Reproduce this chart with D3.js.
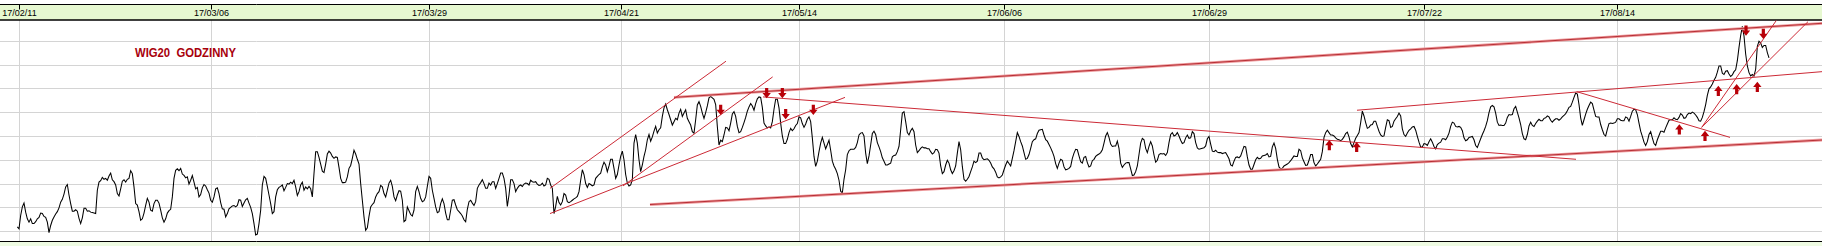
<!DOCTYPE html>
<html><head><meta charset="utf-8">
<script src="https://cdn.jsdelivr.net/npm/d3@7"></script>
<style>html,body{margin:0;padding:0;background:#fff;overflow:hidden}</style>
</head><body><svg id="c" width="1822" height="246"></svg>
<script>
const title = "WIG20  GODZINNY";
const tickIndex = [1, 116, 247, 362, 469, 592, 715, 844, 960];
const tickLabels = ["17/02/11", "17/03/06", "17/03/29", "17/04/21", "17/05/14", "17/06/06", "17/06/29", "17/07/22", "17/08/14"];
const gridValues = [2150, 2200, 2250, 2300, 2350, 2400, 2450, 2500, 2550];
const valueDomain = [2130.4, 2594.5];

// hourly closes
const closes = [
2160,2156,2184,2202,2210,2191,2177,2170,2177,2167,
2167,2171,2177,2180,2189,2188,2182,2180,2170,2148,
2163,2174,2181,2187,2192,2200,2212,2218,2229,2244,
2249,2227,2209,2193,2193,2196,2193,2178,2167,2179,
2199,2199,2193,2194,2191,2190,2189,2188,2237,2254,
2257,2264,2260,2262,2258,2267,2273,2259,2255,2248,
2230,2225,2240,2256,2259,2254,2260,2262,2278,2272,
2244,2209,2206,2192,2174,2177,2189,2205,2220,2212,
2195,2193,2209,2216,2216,2210,2195,2179,2170,2177,
2189,2194,2197,2223,2262,2279,2282,2278,2283,2271,
2268,2263,2265,2250,2258,2268,2254,2240,2243,2223,
2228,2242,2249,2246,2238,2231,2216,2212,2223,2240,
2242,2230,2211,2198,2197,2181,2188,2198,2201,2204,
2205,2202,2205,2217,2216,2203,2210,2217,2220,2210,
2201,2188,2167,2143,2145,2167,2195,2248,2266,2262,
2245,2227,2209,2188,2192,2223,2238,2243,2245,2248,
2236,2243,2251,2250,2254,2251,2258,2244,2226,2234,
2248,2254,2237,2244,2240,2245,2240,2223,2272,2318,
2318,2306,2292,2277,2274,2292,2313,2319,2315,2308,
2304,2307,2306,2285,2262,2253,2253,2254,2265,2283,
2289,2304,2321,2313,2302,2292,2251,2216,2181,2153,
2158,2182,2202,2207,2211,2223,2230,2234,2247,2244,
2230,2223,2237,2252,2258,2245,2223,2215,2227,2236,
2235,2216,2171,2174,2202,2194,2186,2183,2195,2234,
2245,2234,2220,2213,2215,2223,2245,2266,2262,2237,
2220,2202,2190,2192,2209,2219,2209,2189,2175,2175,
2195,2216,
2217,2206,2196,2192,2188,2183,2175,2171,2197,2213,
2216,2210,2205,2213,2241,2248,2253,2259,2251,2241,
2241,2252,2248,2255,2255,2241,2251,2262,2273,2273,
2262,2241,2203,2227,2259,2259,2251,2234,2241,2246,
2248,2245,2250,2252,2251,2248,2258,2255,2254,2255,
2250,2247,2248,2252,2246,2248,2262,2260,2248,2241,
2188,2203,2224,2211,2206,2213,2230,2227,2213,2211,
2213,2216,2219,2221,2224,2234,2258,2280,2270,2251,
2243,2251,2249,2246,2248,2262,2266,2270,2273,2286,
2296,2290,2276,2288,2302,2302,2283,2262,2270,2290,
2308,2319,2301,2270,2252,2246,2248,2259,2336,2354,
2336,2301,2276,2290,2308,2322,2343,2354,2340,2349,
2361,2371,2357,2364,2368,2392,2410,2418,2406,2396,
2385,2374,2381,2388,2385,2399,2407,2392,2399,2406,
2388,2381,2374,2360,2357,2385,2416,2423,2413,2399,
2388,2400,2414,2431,2434,2431,2428,2417,2371,2332,
2342,2339,2353,2369,2368,2362,2378,2397,2402,2392,
2371,2358,2360,2369,2379,2390,2403,2412,2419,2414,
2405,2419,2429,2433,2432,2411,2378,2372,2368,2370,
2368,2381,2407,2428,2428,2410,2378,2351,2335,2335,
2344,2358,2367,2362,2366,2373,2377,2391,2389,2377,
2369,2376,2386,2391,2381,2347,2308,2287,2298,2318,
2336,2348,2336,2324,2333,2342,2321,2298,2288,2281,
2272,2258,2235,2231,2260,2280,2312,2320,2323,2323,
2323,2327,2337,2353,2357,2358,2351,2315,2293,2309,
2332,2356,2361,2354,2337,2328,2318,2305,2298,2290,
2290,2292,2294,2307,2310,2311,2318,2329,
2364,2399,2402,2381,2358,2353,2362,2367,2360,2332,
2316,2320,2325,2328,2326,2326,2324,2324,2318,2313,
2316,2323,2322,2315,2288,2272,2276,2290,2300,2294,
2280,2272,2278,2288,2315,2339,2322,2287,2260,2256,
2260,2266,2276,2286,2298,2295,2298,2315,2315,2305,
2301,2302,2303,2300,2294,2286,2282,2275,2265,2263,
2265,2269,2280,2290,2298,2293,2288,2304,2320,2339,
2358,2350,2339,2330,2316,2302,2304,2312,2325,2339,
2343,2345,2356,2363,2364,2365,2353,2343,2340,2333,
2326,2318,2308,2293,2283,2294,2302,2300,2286,2280,
2281,2283,2287,2304,2315,2323,2322,2309,2297,2294,
2306,2308,2295,2286,2288,2299,2302,2308,2311,2313,
2316,2322,2336,2351,2358,2348,2334,2329,2330,2330,
2340,2325,2294,2285,2290,2294,2295,2295,2282,2268,
2269,2276,2288,2312,2336,2346,2343,2325,2316,2329,
2339,2330,2311,2296,2300,2312,2314,2313,2314,2310,
2316,2337,2354,2358,2351,2353,2358,2351,2342,2335,
2337,2347,2353,2346,2347,2360,2356,2337,2326,2323,
2324,2325,2326,2330,2345,2350,2334,2319,2318,2321,
2317,2316,2316,2314,2315,2316,2310,2303,2290,2288,
2298,2306,2307,2305,2309,2319,2329,2328,2307,2290,
2281,2281,2291,2301,2306,2303,2304,2309,2310,2311,
2314,2307,2308,2328,2336,2325,2302,2286,2282,2283,
2288,2290,2292,2295,2299,2304,2309,2308,2308,2323,
2320,2305,2297,2289,2290,2300,2312,2312,2295,2288,
2292,2297,2302,2318,2348,2358,2363,2358,2353,2353,
2351,2347,2344,2343,2341,2344,2349,2356,2359,2349,
2335,2328,2337,
2346,2352,2358,
2379,2403,2393,2379,2367,2369,2374,2375,2382,2382,
2371,2361,2353,2350,2351,2369,2385,2383,2369,2371,
2382,2387,2392,2399,2393,2366,2354,2350,2357,2363,
2366,2370,2371,2363,2350,2338,2328,2328,2335,2334,
2331,2339,2345,2338,2329,2324,2333,2336,2338,2345,
2345,2343,2349,2357,2371,2380,2378,2371,2370,2371,
2369,2362,2347,2341,2343,2348,2349,2350,2343,2331,
2327,2336,2345,2354,2362,2371,2383,2400,2412,2415,
2412,2399,2380,2373,2374,2373,2373,2378,2390,2396,
2395,2396,2408,2413,2401,2389,2375,2356,2345,2343,
2354,2372,2380,2373,2371,2377,2382,2386,2383,2383,
2388,2389,2393,2391,2384,2380,2384,2387,2387,2384,
2387,2391,2394,2398,2404,2411,2413,2422,2432,2441,
2439,2417,2389,2373,2385,2397,2407,2415,2422,2419,
2405,2392,2391,2391,2375,2364,2354,2351,2365,2377,
2378,2377,2378,2380,2387,2387,2384,2383,2383,2391,
2389,2382,2392,2403,2407,2406,2396,2378,2361,2350,
2338,2331,2339,2354,2360,2347,2335,2331,2343,2352,
2361,2361,2359,2368,2376,2384,2385,2385,2389,2386,
2385,2390,2398,2395,2388,2389,2396,2399,2398,2401,
2399,2395,2390,2383,2382,2390,2402,2417,2436,2450,
2454,2460,2468,2474,2485,2498,2498,2483,2480,2487,
2488,2481,2476,2479,2486,2490,2509,2537,2562,2581,
2561,2523,2498,2484,2477,2480,2477,2491,2539,2550,
2546,2537,2541,2541,2526,2515
];

// trend lines: [bar index 1, value 1, bar index 2, value 2]
const singleTrendLines = [
  [319.6, 2241, 425.2, 2508],
  [319.6, 2188, 496.6, 2432],
  [363.4, 2246, 453.2, 2475],
  [447.4, 2433, 935.2, 2302],
  [803.8, 2405, 1082.8, 2486],
  [935.6, 2444, 1027.6, 2348],
  [1010.6, 2369, 1055.6, 2594.5],
  [1010.6, 2369, 1074.4, 2591]
];
const doubleTrendLines = [
  [394.0, 2432, 1082.8, 2587.6],
  [379.6, 2207, 1082.8, 2342.5]
];
// signal arrows: [bar index, value]
const downArrows = [[422.0, 2405.5], [449.6, 2440.6], [459.0, 2440.6], [461.0, 2396.5], [477.6, 2405.5], [1037.2, 2572], [1047.6, 2565]];
const upArrows = [[787.2, 2332], [803.6, 2328], [997.2, 2365], [1012.6, 2351.5], [1020.6, 2446], [1031.6, 2449.6], [1044.0, 2454.4]];

const W = 1822, H = 246;
const svg = d3.select("#c");
const x = d3.scaleLinear().domain([0, closes.length - 1]).range([17.333, 1769]);
const xr = x.copy().interpolate(d3.interpolateRound);
const y = d3.scaleLinear().domain(valueDomain).range([241, 20]);

svg.append("rect").attr("width", W).attr("height", H).attr("fill", "#fff");

// grid
svg.append("g").selectAll("line").data(gridValues).join("line")
  .attr("x1", 0).attr("x2", W)
  .attr("y1", d => Math.floor(y(d)) + 0.5).attr("y2", d => Math.floor(y(d)) + 0.5)
  .attr("stroke", "#d4d4d4").attr("stroke-width", 1);
svg.append("g").selectAll("line").data(tickIndex).join("line")
  .attr("x1", d => xr(d) + 0.5).attr("x2", d => xr(d) + 0.5)
  .attr("y1", 20).attr("y2", 241)
  .attr("stroke", "#d4d4d4").attr("stroke-width", 1);

// header band
svg.append("rect").attr("x", 0).attr("y", 4.5).attr("width", W).attr("height", 15.5).attr("fill", "#e6f8d0");
svg.append("line").attr("x1", 0).attr("x2", W).attr("y1", 4.5).attr("y2", 4.5).attr("stroke", "#000");
svg.append("line").attr("x1", 0).attr("x2", W).attr("y1", 20).attr("y2", 20).attr("stroke", "#000").attr("stroke-width", 1.3);

// bottom strip
svg.append("rect").attr("x", 0).attr("y", 242).attr("width", W).attr("height", 4).attr("fill", "#eefbe2");
svg.append("line").attr("x1", 0).attr("x2", W).attr("y1", 241.5).attr("y2", 241.5).attr("stroke", "#000");

// date axis
const axis = d3.axisBottom(xr).tickValues(tickIndex).tickFormat((d, i) => tickLabels[i]).tickSize(5).tickPadding(0);
const ag = svg.append("g").attr("transform", "translate(0,4.5)").call(axis);
ag.select(".domain").remove();
ag.attr("font-family", "'Liberation Sans', Arial, sans-serif").attr("font-size", 9);
ag.selectAll("line").attr("stroke", "#000");
ag.selectAll("text").attr("fill", "#000");

// title
svg.append("text").attr("x", 135).attr("y", 57)
  .attr("font-family", "'Liberation Sans', Arial, sans-serif").attr("font-weight", "bold").attr("font-size", 13)
  .attr("fill", "#a8000c").attr("textLength", 101).attr("lengthAdjust", "spacingAndGlyphs")
  .style("white-space", "pre").text(title);

// plot area
svg.append("clipPath").attr("id", "pc").append("rect").attr("x", 0).attr("y", 20.6).attr("width", W).attr("height", 220.6);
const plot = svg.append("g").attr("clip-path", "url(#pc)");

plot.append("path").datum(closes)
  .attr("d", d3.line().x((d, i) => x(i)).y(d => y(d)))
  .attr("fill", "none").attr("stroke", "#000").attr("stroke-width", 1.05);

const dbl = plot.append("g");
dbl.selectAll("line.o").data(doubleTrendLines).join("line").attr("class", "o")
  .attr("x1", d => x(d[0])).attr("y1", d => y(d[1])).attr("x2", d => x(d[2])).attr("y2", d => y(d[3]))
  .attr("stroke", "#ee9a9c").attr("stroke-width", 2.8);
dbl.selectAll("line.i").data(doubleTrendLines).join("line").attr("class", "i")
  .attr("x1", d => x(d[0])).attr("y1", d => y(d[1])).attr("x2", d => x(d[2])).attr("y2", d => y(d[3]))
  .attr("stroke", "#a8141c").attr("stroke-width", 0.8);

plot.append("g").selectAll("line").data(singleTrendLines).join("line")
  .attr("x1", d => x(d[0])).attr("y1", d => y(d[1])).attr("x2", d => x(d[2])).attr("y2", d => y(d[3]))
  .attr("stroke", "#cc2a36").attr("stroke-width", 1);

const downShape = "M-1.6,-5.2L1.6,-5.2L1.6,-0.3L4.2,-0.3L0,5L-4.2,-0.3L-1.6,-0.3Z";
const upShape = "M-1.6,5.2L1.6,5.2L1.6,0.3L4.2,0.3L0,-5L-4.2,0.3L-1.6,0.3Z";
plot.append("g").selectAll("path").data(downArrows).join("path")
  .attr("transform", d => `translate(${x(d[0])},${y(d[1])})`).attr("d", downShape).attr("fill", "#b80008");
plot.append("g").selectAll("path").data(upArrows).join("path")
  .attr("transform", d => `translate(${x(d[0])},${y(d[1])})`).attr("d", upShape).attr("fill", "#b80008");
</script>
</body></html>
